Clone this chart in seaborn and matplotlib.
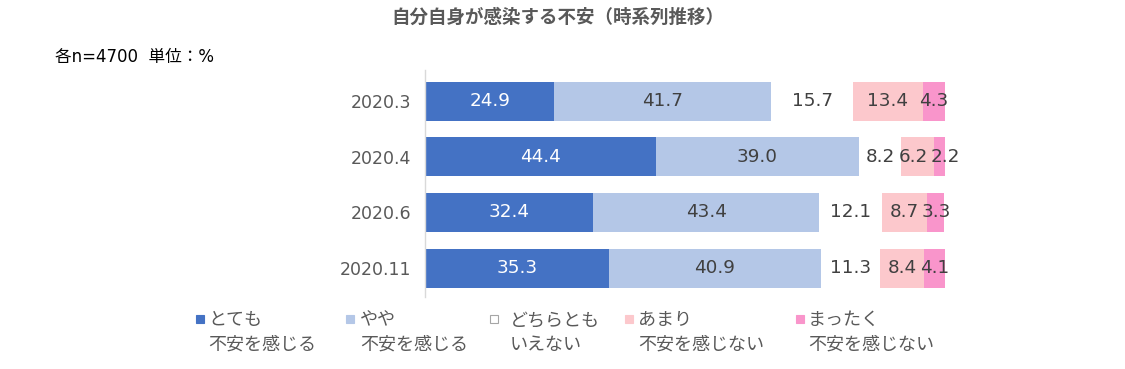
import numpy as np
import pandas as pd
import matplotlib
matplotlib.use("Agg")
import matplotlib.pyplot as plt
import seaborn as sns
from matplotlib.patches import Rectangle

periods = ["2020.3", "2020.4", "2020.6", "2020.11"]
cat_line1 = ["とても", "やや", "どちらとも", "あまり", "まったく"]
cat_line2 = ["不安を感じる", "不安を感じる", "いえない", "不安を感じない", "不安を感じない"]
very = [24.9, 44.4, 32.4, 35.3]
somewhat = [41.7, 39.0, 43.4, 40.9]
neutral = [15.7, 8.2, 12.1, 11.3]
not_much = [13.4, 6.2, 8.7, 8.4]
not_at_all = [4.3, 2.2, 3.3, 4.1]
series = [very, somewhat, neutral, not_much, not_at_all]
colors = ["#4472C4", "#B4C7E7", "#FFFFFF", "#FCC8CC", "#F995CB"]
text_colors = ["white", "#404040", "#404040", "#404040", "#404040"]

sns.set_theme(style="white")
plt.rcParams['font.family'] = ['DejaVu Sans', 'Noto Sans CJK JP']

W, H = 1125, 369
df = pd.DataFrame({"period": periods})
vals = np.array(series)
cum = np.cumsum(vals, axis=0)

fig = plt.figure(figsize=(W / 100, H / 100), dpi=100)
ax = fig.add_axes([425 / W, 1 - 297 / H, 520 / W, 227 / H])

# stacked bars drawn from the cumulative totals (largest first)
for k in range(len(series) - 1, -1, -1):
    d = df.copy()
    d["value"] = cum[k]
    sns.barplot(data=d, x="value", y="period", orient="h", color=colors[k],
                saturation=1, width=0.7, ax=ax, linewidth=0)

for k in range(len(series)):
    for i in range(len(periods)):
        center = cum[k][i] - vals[k][i] / 2
        # nudge crowded small-segment labels apart so they just touch
        dx = 0
        if k == 3 and vals[k][i] < 7:
            dx = -3
        elif k == 4 and vals[k - 1][i] < 7:
            dx = 4
        ax.annotate(f"{vals[k][i]:.1f}", (center, i), xytext=(dx, 0),
                    textcoords="offset points", ha="center", va="center",
                    fontsize=13.2, color=text_colors[k])

ax.set_xlim(0, 100)
ax.set_ylim(3.52, -0.56)
ax.set_xlabel("")
ax.set_ylabel("")
ax.set_xticks([])
for s in ["top", "right", "bottom"]:
    ax.spines[s].set_visible(False)
ax.spines["left"].set_color("#D9D9D9")
ax.spines["left"].set_linewidth(1)
ax.tick_params(axis="y", length=0, pad=10, labelsize=12.5, labelcolor="#595959")

fig.text(558 / W, 1 - 17 / H, "自分自身が感染する不安（時系列推移）", ha="center", va="center",
         fontsize=13.3, fontweight="bold", color="#595959",
         family=['Noto Sans CJK JP', 'DejaVu Sans'])
fig.text(55 / W, 1 - 57 / H, "各n=4700  単位：%", ha="left", va="center",
         fontsize=12, color="#000000")

# legend (two-line labels, square marker on the first line)
marker_x = [196, 346, 490, 625, 796]
text_x = [208, 360, 510, 638, 808]
for k in range(len(colors)):
    ec = "#A6A6A6" if colors[k] == "#FFFFFF" else colors[k]
    fig.add_artist(Rectangle((marker_x[k] / W, 1 - 323 / H), 8 / W, 8 / H,
                             transform=fig.transFigure, facecolor=colors[k],
                             edgecolor=ec, linewidth=0.8))
    fig.text(text_x[k] / W, 1 - 320 / H, cat_line1[k], ha="left", va="center",
             fontsize=13, color="#595959", family=['Noto Sans CJK JP', 'DejaVu Sans'])
    fig.text(text_x[k] / W, 1 - 345 / H, cat_line2[k], ha="left", va="center",
             fontsize=13, color="#595959", family=['Noto Sans CJK JP', 'DejaVu Sans'])

fig.savefig("out.png", dpi=100, facecolor="white")
